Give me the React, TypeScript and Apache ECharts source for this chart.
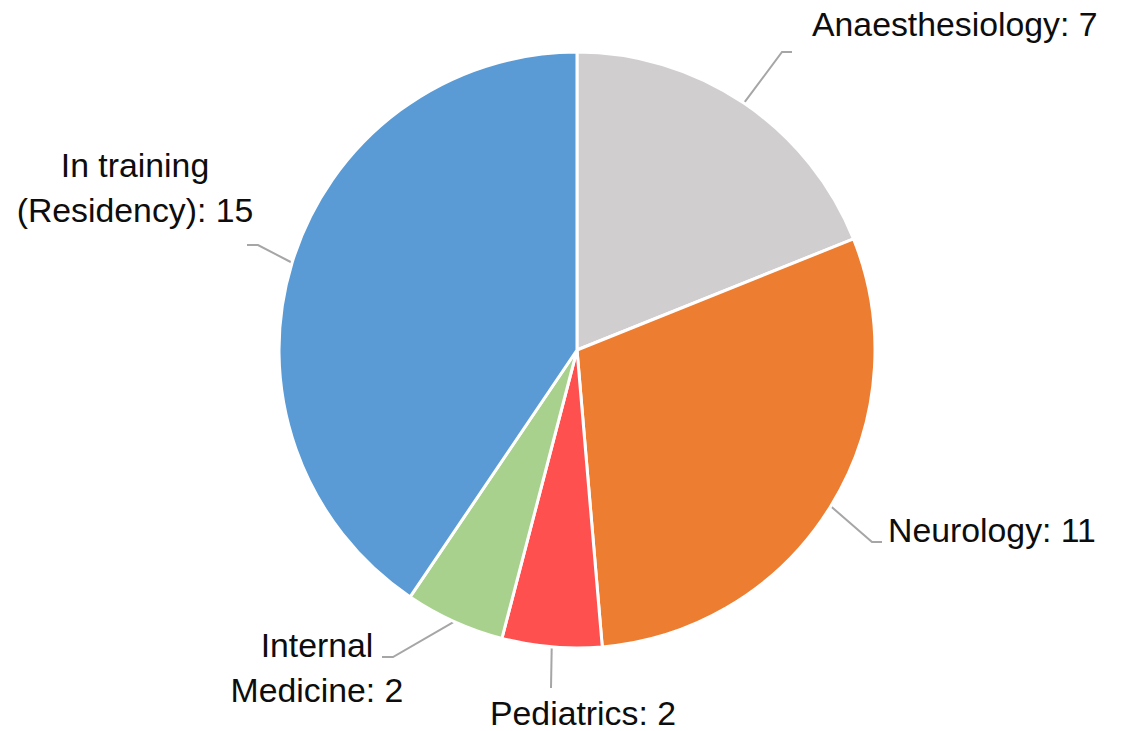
import React, { useEffect, useRef } from 'react';
import * as echarts from 'echarts';

const categories = ['Anaesthesiology', 'Neurology', 'Pediatrics', 'Internal\nMedicine', 'In training\n(Residency)'];
const values = [7, 11, 2, 2, 15];
const colors = ['#D0CECE', '#ED7D31', '#FF5050', '#A9D18E', '#5B9BD5'];

// Label placement (text block anchor + leader line elbow/end), layout only
const labelLayouts = [
  { x: 812, y: 24, align: 'left', elbow: [782, 52], end: [792, 52] },
  { x: 888, y: 530, align: 'left', elbow: [872, 542], end: [882, 542] },
  { x: 583, y: 713, align: 'center', elbow: [551, 688], end: [551, 688] },
  { x: 317, y: 667, align: 'center', elbow: [393, 657], end: [382, 657] },
  { x: 135, y: 187, align: 'center', elbow: [258, 245], end: [247, 245] },
];

export default function App() {
  const ref = useRef<HTMLDivElement>(null);
  useEffect(() => {
    if (!ref.current) return;
    const chart = echarts.init(ref.current, null, { renderer: 'svg' });
    chart.setOption({
      animation: false,
      backgroundColor: '#ffffff',
      series: [
        {
          type: 'pie',
          center: [577, 350],
          radius: 298,
          startAngle: 90,
          clockwise: true,
          data: categories.map((name, i) => ({
            name,
            value: values[i],
            itemStyle: { color: colors[i] },
          })),
          itemStyle: { borderColor: '#ffffff', borderWidth: 3 },
          label: {
            show: true,
            position: 'outside',
            formatter: (p: any) => `${p.name}: ${p.value}`,
            fontFamily: '"Liberation Sans", Arial, sans-serif',
            fontSize: 33.8,
            lineHeight: 45,
            color: '#0d0d0d',
            align: 'center',
          },
          labelLine: {
            show: true,
            length: 20,
            length2: 10,
            smooth: false,
            lineStyle: { color: '#A6A6A6', width: 2 },
          },
          labelLayout: (params: any) => {
            const L = labelLayouts[params.dataIndex];
            const pts = params.labelLinePoints;
            const anchor = pts && pts[0] ? pts[0] : L.elbow;
            return {
              x: L.x,
              y: L.y,
              align: L.align,
              verticalAlign: 'middle',
              labelLinePoints: [anchor, L.elbow, L.end],
            };
          },
          emphasis: { disabled: true },
        },
      ],
    });
    return () => chart.dispose();
  }, []);
  return (
    <div
      ref={ref}
      style={{ position: 'absolute', left: 0, top: 0, width: 1128, height: 731 }}
    />
  );
}
